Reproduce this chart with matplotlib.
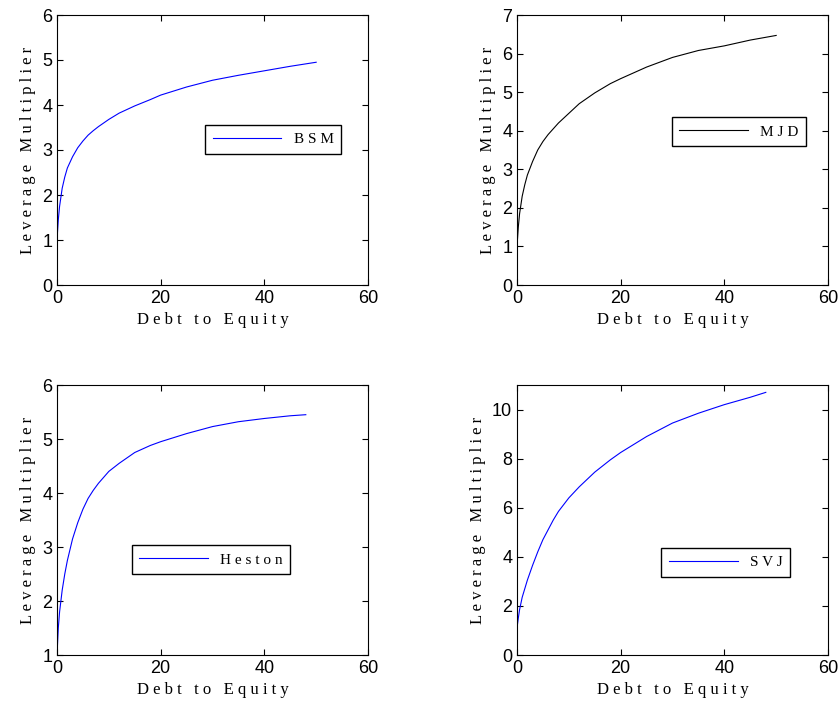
import matplotlib
matplotlib.use("Agg")
import matplotlib.pyplot as plt

de = [0, 0.25, 0.5, 1, 1.5, 2, 3, 4, 5, 6, 7, 8, 10, 12, 15, 18, 20, 25, 30, 35, 40, 45, 50]
bsm = [1.0, 1.45, 1.75, 2.15, 2.4, 2.6, 2.85, 3.05, 3.2, 3.33, 3.43, 3.52, 3.68, 3.82, 3.98, 4.12, 4.22, 4.4, 4.55, 4.66, 4.76, 4.86, 4.95]
mjd = [1.0, 1.5, 1.85, 2.3, 2.6, 2.85, 3.2, 3.5, 3.72, 3.9, 4.05, 4.2, 4.45, 4.7, 4.98, 5.22, 5.35, 5.65, 5.9, 6.08, 6.2, 6.35, 6.47]
de_h = [0, 0.25, 0.5, 1, 1.5, 2, 3, 4, 5, 6, 7, 8, 10, 12, 15, 18, 20, 25, 30, 35, 40, 45, 48]
heston = [1.0, 1.5, 1.8, 2.2, 2.5, 2.75, 3.15, 3.45, 3.7, 3.9, 4.05, 4.18, 4.4, 4.55, 4.75, 4.88, 4.95, 5.1, 5.23, 5.32, 5.38, 5.43, 5.45]
svj = [1.1, 1.5, 1.85, 2.35, 2.7, 3.05, 3.65, 4.2, 4.7, 5.1, 5.5, 5.85, 6.4, 6.85, 7.45, 7.95, 8.25, 8.9, 9.45, 9.85, 10.2, 10.5, 10.7]

panels = [
    (de, bsm, "BSM", "blue", (0, 6), range(0, 7), (0.695, 0.54)),
    (de, mjd, "MJD", "black", (0, 7), range(0, 8), (0.714, 0.567)),
    (de_h, heston, "Heston", "blue", (1, 6), range(1, 7), (0.495, 0.352)),
    (de_h, svj, "SVJ", "blue", (0, 11), range(0, 11, 2), (0.672, 0.344)),
]
boxes = [(57, 15), (517, 15), (57, 385), (517, 385)]

W, H = 840, 709
fig = plt.figure(figsize=(W / 100, H / 100), dpi=100)
serif = {"family": "Liberation Serif", "size": 12}

for (x, y, name, col, ylim, yt, lpos), (px, py) in zip(panels, boxes):
    ax = fig.add_axes([px / W, 1 - (py + 270) / H, 311 / W, 270 / H])
    ax.plot(x, y, color=col, lw=0.8, label=" ".join(name))
    ax.set_xlim(0, 60)
    ax.set_ylim(*ylim)
    ax.set_xticks([0, 20, 40, 60])
    ax.set_yticks(list(yt))
    ax.tick_params(direction="in", labelsize=13, length=4, top=True, right=True)
    for lab in ax.get_xticklabels() + ax.get_yticklabels():
        lab.set_family("Liberation Sans")
    ax.set_xlabel(" ".join("Debt to Equity"), fontdict=serif)
    ax.set_ylabel(" ".join("Leverage Multiplier"), fontdict=serif)
    leg = ax.legend(loc="center", bbox_to_anchor=lpos, prop={"family": "Liberation Serif", "size": 11},
                    fancybox=False, framealpha=1, handlelength=4.5, borderpad=0.5)
    leg.get_frame().set_edgecolor("black")

fig.savefig("out.png")
